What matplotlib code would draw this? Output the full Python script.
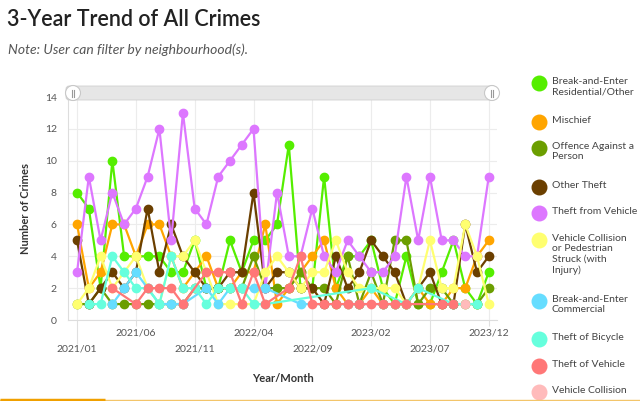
import numpy as np
import matplotlib.pyplot as plt
from matplotlib.patches import FancyBboxPatch, Circle

plt.rcParams['font.family'] = ['Lato', 'DejaVu Sans']

# months 2021/01 .. 2023/12
months = [f"{y}/{m:02d}" for y in (2021, 2022, 2023) for m in range(1, 13)]
N = None

residential = [8, 7, 2, 10, 4, 4, 4, 4, 3, 3, 5, 2, 2, 5, 3, 5, 5, 6, 11, 2, 2, 9, 2, 4,
               4, 5, 2, 1, 4, 1, 1, 3, 5, 2, 1, 3]
mischief = [6, 2, 3, 6, 6, 4, 6, 6, 4, 2, 3, 4, 2, 2, 3, 3, 6, 1, 2, 3, 4, 5, 2, 1,
            1, 2, 1, 1, 1, 2, 1, 1, 2, 2, 4, 5]
person = [1, 1, 2, 1, 1, 1, 1, 1, 1, 1, 2, 2, 2, 2, 2, 4, 2, 2, 2, 3, 2, 2, 1, 4,
          1, 3, 1, 5, 5, 1, 2, 2, 1, 1, 1, 2]
other_theft = [5, 1, 2, 3, 2, 3, 7, 3, 6, 4, 3, 2, 2, 3, 3, 8, 2, 3, 3, 2, 2, 1, 4, 2,
               3, 5, 4, 3, 1, 2, 3, 1, 1, 6, 3, 4]
from_vehicle = [3, 9, 5, 8, 6, 7, 9, 12, 5, 13, 7, 6, 9, 10, 11, 12, 2, 8, 4, 4, 7, 4, 3, 5,
                4, 3, 3, 4, 9, 5, 9, 5, 5, 4, 4, 9]
collision_injury = [1, 2, 4, 2, 3, 4, 2, 1, 4, 4, 5, 3, 1, 1, 1, 1, 3, 4, 3, 2, 3, 3, 5, 3,
                    2, 2, 2, 2, 1, 2, 5, 2, 2, 6, 4, 1]
commercial = [N, N, N, 1, 2, 3, 2, 1, 1, 1, N, 2, 1, 2, 2, 2, 2, N, N, 1, N, N, N, 1,
              1, N, 1, 1, N, N, N, N, N, N, N, N]
bicycle = [N, 1, 1, 4, 3, 2, 2, 1, 4, 2, 2, 1, 2, 2, 2, 1, 1, N, N, N, N, N, N, N,
           N, 2, N, N, 1, 2, N, N, 1, N, 1, N]
theft_vehicle = [N, N, N, 2, N, 1, 2, 2, 2, 1, N, 3, 3, 3, 1, 3, 1, N, 2, 4, 1, 1, 1, 1,
                 1, 1, 1, 1, 1, N, N, 1, 1, N, N, N]
collision = [N] * 33 + [1, N, N]

series = [residential, mischief, person, other_theft, from_vehicle,
          collision_injury, commercial, bicycle, theft_vehicle, collision]
labels = ["Break-and-Enter\nResidential/Other", "Mischief", "Offence Against a\nPerson",
          "Other Theft", "Theft from Vehicle",
          "Vehicle Collision\nor Pedestrian\nStruck (with\nInjury)",
          "Break-and-Enter\nCommercial", "Theft of Bicycle", "Theft of Vehicle",
          "Vehicle Collision"]
colors = ["#55ee00", "#ffa500", "#6b9e00", "#6b3f00", "#dd77ff",
          "#ffff70", "#66ddff", "#66ffdd", "#ff7777", "#ffbbbb"]

W, H = 640, 401
fig = plt.figure(figsize=(W / 100, H / 100), dpi=100)

def px(x0, y0, x1, y1):
    return [x0 / W, 1 - y1 / H, (x1 - x0) / W, (y1 - y0) / H]

ax = fig.add_axes(px(68, 97, 497, 320))
x = np.arange(len(months))
for vals, c in zip(series, colors):
    v = np.array([np.nan if a is None else a for a in vals], dtype=float)
    m = ~np.isnan(v)
    ax.plot(x[m], v[m], color=c, lw=1.6, marker='o', ms=6, mec=c, zorder=3)

ax.set_xlim(-0.77, 35.7)
ax.set_ylim(0, 14)
ax.set_yticks(range(0, 15, 2))
ax.tick_params(axis='y', length=0, labelsize=7.5, labelcolor='#555555', pad=8)
lower = list(range(0, 36, 10))
upper = list(range(5, 36, 10))
ax.set_xticks(lower, [months[i] for i in lower])
ax.set_xticks(upper, [months[i] for i in upper], minor=True)
ax.tick_params(axis='x', which='major', length=17, width=0.8, color='#e0e0e0',
               labelsize=7.5, labelcolor='#555555', pad=1)
ax.tick_params(axis='x', which='minor', length=4, width=0.8, color='#e0e0e0',
               labelsize=7.5, labelcolor='#555555', pad=2)
ax.grid(True, which='both', color='#ececec', lw=0.8, zorder=0)
for s in ('top', 'right'):
    ax.spines[s].set_visible(False)
ax.spines['left'].set_color('#dddddd')
ax.spines['bottom'].set_color('#dddddd')
ax.set_ylabel("Number of Crimes", fontsize=8, fontweight='bold', color='#333333', labelpad=10)
ax.set_xlabel("Year/Month", fontsize=8, fontweight='bold', color='#333333', labelpad=14)

# overlay for title, slider, legend
lax = fig.add_axes([0, 0, 1, 1], zorder=5)
lax.set_xlim(0, W)
lax.set_ylim(H, 0)
lax.axis('off')

lax.text(7, 20, "3-Year Trend of All Crimes", fontsize=15.5, fontweight='semibold',
         color='#222222', va='center')
lax.text(8, 50, "Note: User can filter by neighbourhood(s).", fontsize=10,
         style='italic', color='#555555', va='center')

lax.add_patch(FancyBboxPatch((66, 86), 430, 14, boxstyle='round,pad=0,rounding_size=3',
                             fc='#e6e6e6', ec='#d0d0d0', lw=0.6))
for hx in (73, 492):
    lax.add_patch(Circle((hx, 93), 7.5, fc='white', ec='#c8c8c8', lw=0.8))
    for dx in (-1.3, 1.3):
        lax.plot([hx + dx, hx + dx], [89.5, 96.5], color='#999999', lw=0.8)

leg_y = [83, 122, 148, 187, 213, 240, 301, 339, 366, 392]
for yy, lab, c in zip(leg_y, labels, colors):
    lax.scatter([539], [yy], s=110, color=c, clip_on=False)
    lax.text(552, yy - 6, lab, fontsize=7.5, color='#444444', va='top',
             linespacing=1.2, clip_on=False)

lax.plot([0, 640], [399.5, 399.5], color='#f3c56a', lw=1)
lax.plot([0, 105], [399.5, 399.5], color='#f0a000', lw=2.5, solid_capstyle='butt')

fig.savefig("out.png", dpi=100)
